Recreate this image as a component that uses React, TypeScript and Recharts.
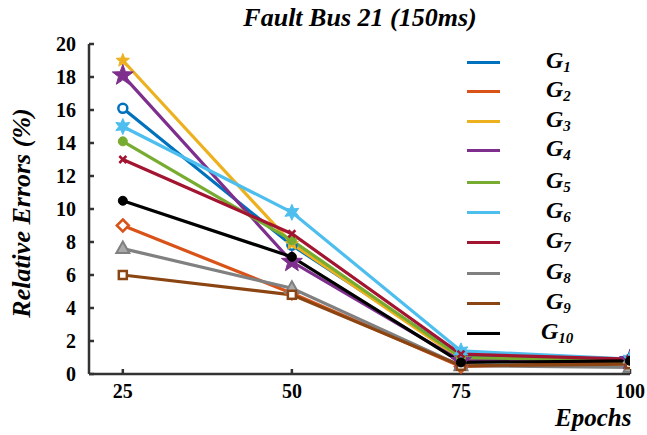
import React from 'react';
import { LineChart, Line, XAxis, YAxis } from 'recharts';

const epochs = [25, 50, 75, 100];
const seriesNames = ['G1', 'G2', 'G3', 'G4', 'G5', 'G6', 'G7', 'G8', 'G9', 'G10'];
const g1 = [16.1, 7.8, 1.1, 0.9];
const g2 = [9.0, 4.9, 0.45, 0.7];
const g3 = [19.0, 7.9, 0.9, 0.8];
const g4 = [18.1, 6.8, 0.8, 0.85];
const g5 = [14.1, 8.1, 1.0, 0.8];
const g6 = [15.0, 9.8, 1.4, 0.9];
const g7 = [13.0, 8.5, 1.2, 0.9];
const g8 = [7.6, 5.2, 0.5, 0.4];
const g9 = [6.0, 4.8, 0.5, 0.6];
const g10 = [10.5, 7.1, 0.7, 0.8];
const yTicks = [0, 2, 4, 6, 8, 10, 12, 14, 16, 18, 20];
const xTicks = [25, 50, 75, 100];

const allSeries = [g1, g2, g3, g4, g5, g6, g7, g8, g9, g10];
const colors = ['#0072BD', '#D95319', '#EDB120', '#7E2F8E', '#77AC30', '#4DBEEE', '#A2142F', '#808080', '#8B4513', '#000000'];
const shapes = ['circleOpen', 'diamondOpen', 'star5', 'star5big', 'circleFilled', 'star6', 'cross', 'triangle', 'squareOpen', 'circleFilled'];

const data = epochs.map((e, i) => {
  const row: any = { epoch: e };
  seriesNames.forEach((n, k) => { row[n] = allSeries[k][i]; });
  return row;
});

function starPoints(cx: number, cy: number, n: number, ro: number, ri: number) {
  const pts: string[] = [];
  for (let i = 0; i < n * 2; i++) {
    const r = i % 2 === 0 ? ro : ri;
    const a = -Math.PI / 2 + (i * Math.PI) / n;
    pts.push(`${cx + r * Math.cos(a)},${cy + r * Math.sin(a)}`);
  }
  return pts.join(' ');
}

const makeDot = (shape: string, color: string) => (props: any) => {
  const { cx, cy, index } = props;
  const key = `d-${shape}-${index}`;
  if (cx == null || cy == null) return <g key={key} />;
  switch (shape) {
    case 'circleOpen':
      return <circle key={key} cx={cx} cy={cy} r={4.5} fill="#fff" stroke={color} strokeWidth={2.5} />;
    case 'circleFilled':
      return <circle key={key} cx={cx} cy={cy} r={4.5} fill={color} stroke={color} strokeWidth={1} />;
    case 'diamondOpen':
      return <polygon key={key} points={`${cx},${cy - 6} ${cx + 6},${cy} ${cx},${cy + 6} ${cx - 6},${cy}`} fill="#fff" stroke={color} strokeWidth={2.5} />;
    case 'star5':
      return <polygon key={key} points={starPoints(cx, cy, 5, 7, 3)} fill={color} stroke={color} strokeWidth={1} />;
    case 'star5big':
      return <polygon key={key} points={starPoints(cx, cy, 5, 11, 4.5)} fill={color} stroke={color} strokeWidth={1} />;
    case 'star6':
      return <polygon key={key} points={starPoints(cx, cy, 6, 8, 4)} fill={color} stroke={color} strokeWidth={1} />;
    case 'cross':
      return (
        <g key={key} stroke={color} strokeWidth={2.5}>
          <line x1={cx - 3.5} y1={cy - 3.5} x2={cx + 3.5} y2={cy + 3.5} />
          <line x1={cx - 3.5} y1={cy + 3.5} x2={cx + 3.5} y2={cy - 3.5} />
        </g>
      );
    case 'triangle':
      return <polygon key={key} points={`${cx},${cy - 7} ${cx + 6.5},${cy + 4.5} ${cx - 6.5},${cy + 4.5}`} fill="#aaa" stroke={color} strokeWidth={2} />;
    case 'squareOpen':
      return <rect key={key} x={cx - 4} y={cy - 4} width={8} height={8} fill="#fff" stroke={color} strokeWidth={2.5} />;
    default:
      return <circle key={key} cx={cx} cy={cy} r={4} fill={color} />;
  }
};

const font = "'Times New Roman', 'Liberation Serif', 'DejaVu Serif', Times, serif";
const axisColor = '#333333';
const tickStyle = { fontFamily: font, fontWeight: 'bold', fontSize: 20, fill: '#000' };

const legendTop = [62, 91, 121, 150, 182, 212, 242, 273, 303, 333];

export default function App() {
  return (
    <div style={{ position: 'absolute', left: 0, top: 0, width: 647, height: 435, background: '#fff', fontFamily: font }}>
      <LineChart width={647} height={435} data={data} margin={{ top: 44, right: 17, bottom: 31, left: 29 }} style={{ fontFamily: font }}>
        <XAxis
          dataKey="epoch"
          type="number"
          domain={[20, 100]}
          ticks={xTicks}
          height={30}
          stroke={axisColor}
          strokeWidth={2.5}
          tickSize={-5}
          tickMargin={15}
          tick={tickStyle}
          allowDataOverflow
        />
        <XAxis
          xAxisId="top"
          orientation="top"
          dataKey="epoch"
          type="number"
          domain={[20, 100]}
          ticks={xTicks}
          height={0}
          stroke={axisColor}
          strokeWidth={2.5}
          tickSize={-5}
          tickFormatter={() => ''}
        />
        <YAxis
          type="number"
          domain={[0, 20]}
          ticks={yTicks}
          width={60}
          stroke={axisColor}
          strokeWidth={2.5}
          tickSize={-5}
          tickMargin={18}
          tick={tickStyle}
          allowDataOverflow
        />
        <YAxis
          yAxisId="right"
          orientation="right"
          type="number"
          domain={[0, 20]}
          ticks={yTicks}
          width={0}
          stroke={axisColor}
          strokeWidth={2.5}
          tickSize={-5}
          tickFormatter={() => ''}
        />
        {seriesNames.map((n, k) => (
          <Line
            key={n}
            dataKey={n}
            stroke={colors[k]}
            strokeWidth={3.2}
            dot={makeDot(shapes[k], colors[k])}
            activeDot={false}
            isAnimationActive={false}
          />
        ))}
      </LineChart>
      <div style={{ position: 'absolute', left: 0, width: 720, top: 3, textAlign: 'center', fontFamily: font, fontWeight: 'bold', fontStyle: 'italic', fontSize: 26, lineHeight: '30px' }}>
        Fault Bus 21 (150ms)
      </div>
      <div style={{ position: 'absolute', left: 555, top: 404, fontFamily: font, fontWeight: 'bold', fontStyle: 'italic', fontSize: 25, lineHeight: '28px' }}>
        Epochs
      </div>
      <div style={{ position: 'absolute', left: 22, top: 213, width: 0, height: 0 }}>
        <div style={{ position: 'absolute', transform: 'translate(-50%, -50%) rotate(-90deg)', whiteSpace: 'nowrap', fontFamily: font, fontWeight: 'bold', fontStyle: 'italic', fontSize: 26, lineHeight: '30px' }}>
          Relative Errors (%)
        </div>
      </div>
      {seriesNames.map((n, k) => (
        <div key={n} style={{ position: 'absolute', left: 0, top: legendTop[k], width: 0, height: 0 }}>
          <div style={{ position: 'absolute', left: 467, top: -1.5, width: 33, height: 3.5, background: colors[k] }} />
          <div style={{ position: 'absolute', left: k === 9 ? 541 : 546, top: -15, whiteSpace: 'nowrap', fontFamily: font, fontWeight: 'bold', fontStyle: 'italic', fontSize: 24, lineHeight: '26px' }}>
            G<sub style={{ fontSize: 15, verticalAlign: -4 }}>{k + 1}</sub>
          </div>
        </div>
      ))}
    </div>
  );
}
